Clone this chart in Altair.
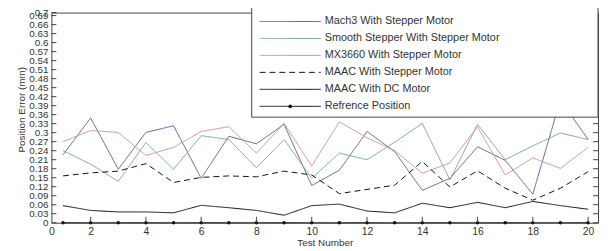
import altair as alt
import pandas as pd

# ---------------- data ----------------
test_no = [1, 2, 3, 4, 5, 6, 7, 8, 9, 10, 11, 12, 13, 14, 15, 16, 17, 18, 19, 20]

mach3 = [0.226, 0.349, 0.178, 0.301, 0.323, 0.148, 0.288, 0.263, 0.328, 0.124,
         0.175, 0.304, 0.237, 0.108, 0.148, 0.253, 0.208, 0.095, 0.410, 0.277]
smooth = [0.240, 0.195, 0.138, 0.267, 0.178, 0.290, 0.277, 0.183, 0.277, 0.148,
          0.232, 0.210, 0.268, 0.331, 0.143, 0.328, 0.210, 0.256, 0.299, 0.277]
mx3660 = [0.270, 0.307, 0.301, 0.224, 0.251, 0.304, 0.320, 0.232, 0.331, 0.189,
          0.336, 0.283, 0.240, 0.165, 0.199, 0.320, 0.159, 0.216, 0.181, 0.251]
maac_stepper = [0.156, 0.166, 0.172, 0.197, 0.134, 0.151, 0.156, 0.153, 0.172, 0.159,
                0.097, 0.111, 0.125, 0.204, 0.119, 0.173, 0.115, 0.075, 0.115, 0.170]
maac_dc = [0.057, 0.041, 0.036, 0.036, 0.033, 0.058, 0.050, 0.041, 0.025, 0.057,
           0.062, 0.039, 0.033, 0.065, 0.050, 0.068, 0.050, 0.071, 0.057, 0.045]
reference = [0.0] * 20

series_names = ["Mach3 With Stepper Motor", "Smooth Stepper With Stepper Motor",
                "MX3660 With Stepper Motor", "MAAC With Stepper Motor",
                "MAAC With DC Motor", "Refrence Position"]
series_values = [mach3, smooth, mx3660, maac_stepper, maac_dc, reference]

y_ticks = [0, 0.03, 0.06, 0.09, 0.12, 0.15, 0.18, 0.21, 0.24, 0.27, 0.3, 0.33,
           0.36, 0.39, 0.42, 0.45, 0.48, 0.51, 0.54, 0.57, 0.6, 0.63, 0.66, 0.69, 0.7]
y_tick_labels = ["0", "0.03", "0.06", "0.09", "0.12", "0.15", "0.18", "0.21", "0.24",
                 "0.27", "0.3", "0.33", "0.36", "0.39", "0.42", "0.45", "0.48", "0.51",
                 "0.54", "0.57", "0.6", "0.63", "0.66", "0.69", "0.7"]
x_ticks = [2, 4, 6, 8, 10, 12, 14, 16, 18, 20]
x_label_ticks = [0.58] + x_ticks   # the "0" label sits on the left edge

# ---------------- styles ----------------
colors = ["#5a5a9e", "#72a882", "#cf8c94", "#111111", "#111111", "#111111"]
dashes = [[1, 0], [1, 0], [1, 0], [6, 4], [1, 0], [1, 0]]
widths = [1, 1, 1, 2, 2.2, 1.4]
FONT = "Liberation Sans"
TXT = "#333333"
FRAME = "#444444"

rows = []
for name, vals in zip(series_names, series_values):
    for t, v in zip(test_no, vals):
        rows.append({"series": name, "test": t, "err": v})
df = pd.DataFrame(rows)

W, H = 554, 213
xscale = alt.Scale(domain=[0.58, 20.36], nice=False, zero=False)
yscale = alt.Scale(domain=[0, 0.7], nice=False, zero=False)
cscale = alt.Scale(domain=series_names, range=colors)
dscale = alt.Scale(domain=series_names, range=dashes)
wscale = alt.Scale(domain=series_names, range=widths)

x_enc = alt.X("test:Q", scale=xscale, title="Test Number",
              axis=alt.Axis(values=x_label_ticks,
                            labelExpr="datum.value < 1 ? '0' : datum.label",
                            labelFlush=False, labelOverlap=False,
                            labelPadding=4, titlePadding=1,
                            labelFontSize=10.5, titleFontSize=10))
y_enc = alt.Y("err:Q", scale=yscale, title="Position Error (mm)",
              axis=alt.Axis(labels=False, values=[0.35],
                            titleFontSize=10, titleX=-30, titleY=98,
                            titleBaseline="middle", titleAlign="center"))

lines = alt.Chart(df).mark_line().encode(
    x=x_enc, y=y_enc,
    color=alt.Color("series:N", scale=cscale, legend=None),
    strokeDash=alt.StrokeDash("series:N", scale=dscale, legend=None),
    strokeWidth=alt.StrokeWidth("series:N", scale=wscale, legend=None),
)

ref_pts = alt.Chart(df).transform_filter(
    alt.datum.series == "Refrence Position"
).mark_circle(size=12, color="#111111", opacity=1).encode(
    x=alt.X("test:Q", scale=xscale), y=alt.Y("err:Q", scale=yscale))

ytick_df = pd.DataFrame({"err": y_ticks, "lab": y_tick_labels})
xtick_df = pd.DataFrame({"test": x_ticks})
left_ticks = alt.Chart(ytick_df).mark_rule(color=FRAME, strokeWidth=1).encode(
    y=alt.Y("err:Q", scale=yscale), x=alt.value(0), x2=alt.value(5))
right_ticks = alt.Chart(ytick_df).mark_rule(color=FRAME, strokeWidth=1).encode(
    y=alt.Y("err:Q", scale=yscale), x=alt.value(W - 5), x2=alt.value(W))
y_labels = alt.Chart(ytick_df).mark_text(
    align="right", baseline="middle", font=FONT, fontSize=10, color=TXT
).encode(y=alt.Y("err:Q", scale=yscale), x=alt.value(-3), text="lab:N")
bottom_ticks = alt.Chart(xtick_df).mark_rule(color=FRAME, strokeWidth=1).encode(
    x=alt.X("test:Q", scale=xscale), y=alt.value(H - 6), y2=alt.value(H))

main = alt.layer(lines, ref_pts, left_ticks, right_ticks, bottom_ticks, y_labels)

# ---------------- legend box ----------------
leg_df = pd.DataFrame({"series": series_names})
leg_y = alt.Y("series:N", axis=None,
              scale=alt.Scale(type="point", domain=series_names, range=[9, 95], padding=0))

box = alt.Chart(alt.Data(values=[{"a": 1}])).mark_rect(
    fill="white", stroke=FRAME, strokeWidth=1).encode(
    x=alt.value(203), x2=alt.value(W), y=alt.value(-8), y2=alt.value(106))
leg_lines = alt.Chart(leg_df).mark_rule().encode(
    x=alt.value(211), x2=alt.value(273), y=leg_y,
    color=alt.Color("series:N", scale=cscale, legend=None),
    strokeDash=alt.StrokeDash("series:N", scale=dscale, legend=None),
    strokeWidth=alt.StrokeWidth("series:N", scale=wscale, legend=None),
)
leg_dot = alt.Chart(leg_df).transform_filter(
    alt.datum.series == "Refrence Position"
).mark_circle(size=14, color="#111111", opacity=1).encode(x=alt.value(242), y=leg_y)
leg_text = alt.Chart(leg_df).mark_text(
    align="left", baseline="middle", font=FONT, fontSize=11, color=TXT
).encode(x=alt.value(277), y=leg_y, text="series:N")

legend = alt.layer(box, leg_lines, leg_dot, leg_text)

chart = alt.layer(main, legend).resolve_scale(y="independent").properties(
    width=W, height=H,
    autosize=alt.AutoSizeParams(type="none"),
    padding={"left": 44, "top": 3, "right": 2, "bottom": 27},
).configure_view(stroke=FRAME, strokeWidth=1).configure_axis(
    domain=False, ticks=False, grid=False, labelOverlap=False,
    labelFont=FONT, titleFont=FONT, labelColor=TXT, titleColor=TXT,
    titleFontWeight="normal",
)

chart.save("out.html", embed_options={"renderer": "svg", "actions": False})
